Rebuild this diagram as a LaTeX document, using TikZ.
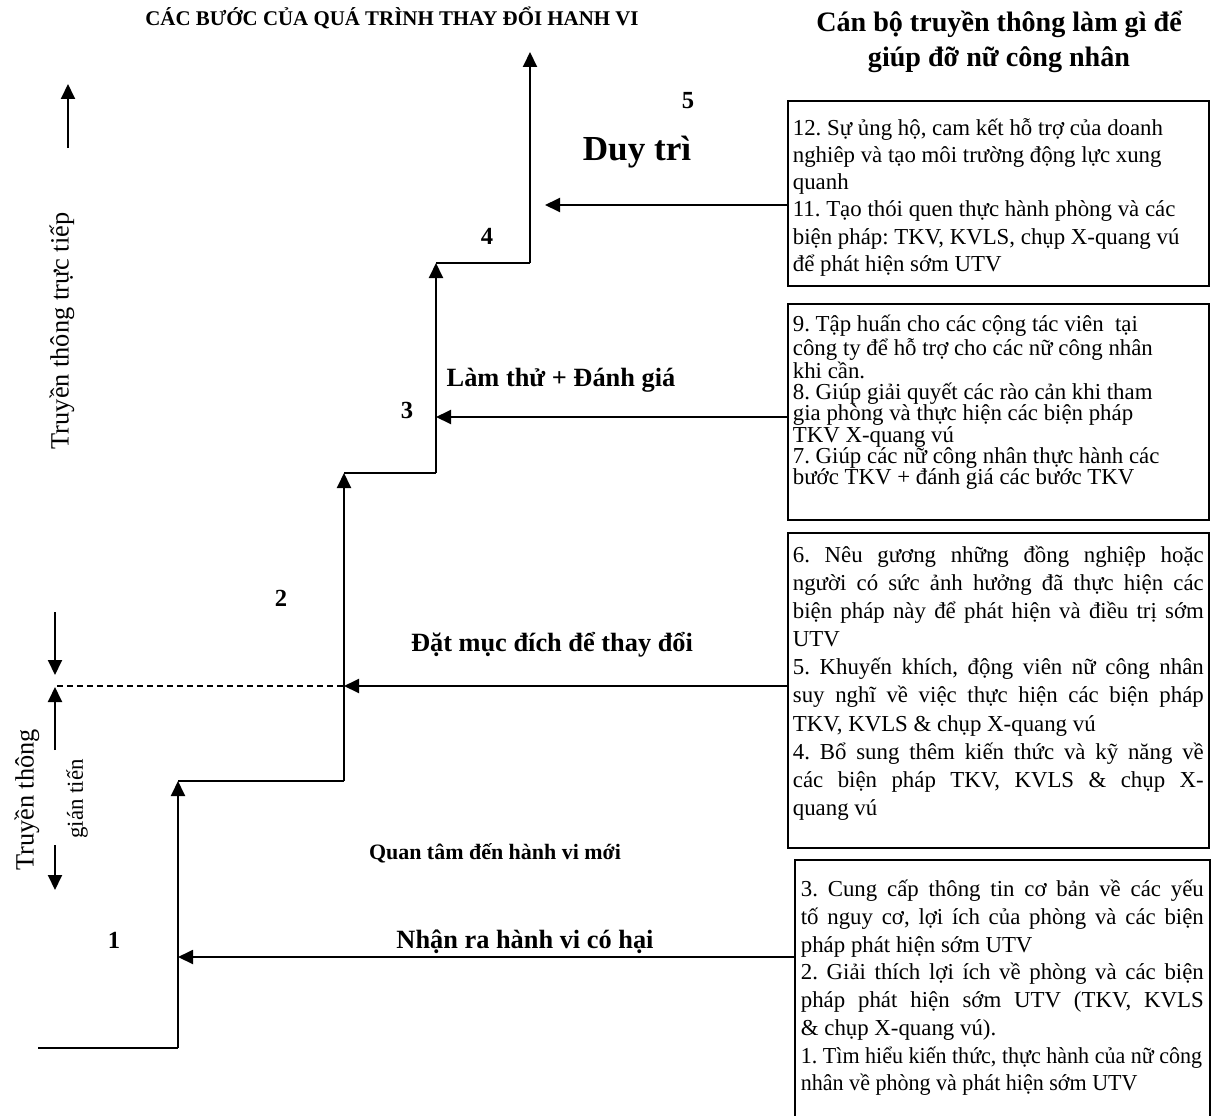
\documentclass[tikz,border=0pt]{standalone}
\usepackage{fontspec}
\setmainfont{Liberation Serif}
\newfontfamily\schmal[FakeStretch=0.965]{Liberation Serif}
\usetikzlibrary{arrows.meta}
\frenchspacing

\tikzset{
	pfeil/.style={line width=1.1pt,-{Triangle[length=0.3cm,width=0.28cm]}},
	stufe/.style={line width=1.1pt},
	kasten/.style={draw,line width=1pt,anchor=north west,inner sep=0.1cm},
	zahl/.style={font=\fontsize{14}{14}\selectfont\bfseries},
	phase/.style={font=\fontsize{15}{15}\selectfont\bfseries},
	seite/.style={rotate=90,font=\fontsize{15}{15}\selectfont},
}

\begin{document}
\begin{tikzpicture}[x=0.02cm,y=-0.02cm]
	\useasboundingbox (0,0) rectangle (1216,1115);
	
	% Ueberschriften
	\node[font=\fontsize{11.9}{13}\selectfont\bfseries] (titel) at (392,18) {CÁC BƯỚC CỦA QUÁ TRÌNH THAY ĐỔI HANH VI};
	\node[font=\fontsize{16}{20}\selectfont\bfseries, align=center] (kopf) at (999,42) {Cán bộ truyền thông làm gì để\\giúp đỡ nữ công nhân};
	
	% Punkte der Treppe
	\coordinate (S0) at (38,1048);
	\coordinate (S1) at (178,1048);
	\coordinate (T1) at (178,781);
	\coordinate (S2) at (344,781);
	\coordinate (T2) at (344,473);
	\coordinate (S3) at (436,473);
	\coordinate (T3) at (436,263);
	\coordinate (S4) at (530,263);
	\coordinate (T4) at (530,52);
	
	% Treppe
	\draw[stufe] (S0) -- (S1);
	\draw[pfeil] (S1) -- (T1);
	\draw[stufe] (T1) -- (S2);
	\draw[pfeil] (S2) -- (T2);
	\draw[stufe] (T2) -- (S3);
	\draw[pfeil] (S3) -- (T3);
	\draw[stufe] (T3) -- (S4);
	\draw[pfeil] (S4) -- (T4);
	
	% Stufen
	\node[zahl] (n1) at (114,940) {1};
	\node[zahl] (n2) at (281,598) {2};
	\node[zahl] (n3) at (407,410) {3};
	\node[zahl] (n4) at (487,236) {4};
	\node[zahl] (n5) at (688,101) {5};
	
	\node[phase] (ph1) at (525,942) {Nhận ra hành vi có hại};
	\node[font=\fontsize{12.5}{12.5}\selectfont\bfseries] (ph1b) at (495,853) {Quan tâm đến hành vi mới};
	\node[phase] (ph2) at (552,645) {Đặt mục đích để thay đổi};
	\node[phase] (ph3) at (561,380) {Làm thử + Đánh giá};
	\node[font=\fontsize{20}{20}\selectfont\bfseries] (ph4) at (637,152) {Duy trì};
	
	% Kaesten
	\node[kasten] (K4) at (787,100) {\parbox[c][3.5cm][t]{8.22cm}{\fontsize{13}{15.5}\selectfont\raggedright
			\vspace*{7pt}
			12. Sự ủng hộ, cam kết hỗ trợ của doanh\\
			nghiêp và tạo môi trường động lực xung\\
			quanh\\
			11. Tạo thói quen thực hành phòng và các\\
			biện pháp: TKV, KVLS, chụp X-quang vú\\
			để phát hiện sớm UTV}};
	\node[kasten] (K3) at (787,303) {\parbox[c][4.12cm][t]{8.22cm}{\fontsize{13}{12.1}\selectfont\raggedright
			\vspace*{3.5pt}
			9. Tập huấn cho các cộng tác viên\ \ tại\\
			công ty để hỗ trợ cho các nữ công nhân\\
			khi cần.\\
			8. Giúp giải quyết các rào cản khi tham\\
			gia phòng và thực hiện các biện pháp\\
			TKV X-quang vú\\
			7. Giúp các nữ công nhân thực hành các\\
			bước TKV + đánh giá các bước TKV}};
	\node[kasten] (K2) at (787,532) {\parbox[c][6.1cm][t]{8.22cm}{\fontsize{13}{16}\selectfont
			\vspace*{4.5pt}
			6. Nêu gương những đồng nghiệp hoặc\linebreak
			người có sức ảnh hưởng đã thực hiện các\linebreak
			biện pháp này để phát hiện và điều trị sớm\linebreak
			UTV\\
			5. Khuyến khích, động viên nữ công nhân\linebreak
			suy nghĩ về việc thực hiện các biện pháp\linebreak
			TKV, KVLS \& chụp X-quang vú\\
			4. Bổ sung thêm kiến thức và kỹ năng về\linebreak
			các biện pháp TKV, KVLS \& chụp X-\linebreak
			quang vú}};
	\node[kasten, draw=none] (K1) at (795,860) {\parbox[c][4.9cm][t]{8.06cm}{\fontsize{13}{15.8}\selectfont
			\vspace*{8pt}
			3. Cung cấp thông tin cơ bản về các yếu\linebreak
			tố nguy cơ, lợi ích của phòng và các biện\linebreak
			pháp phát hiện sớm UTV\\
			2. Giải thích lợi ích về phòng và các biện\linebreak
			pháp phát hiện sớm UTV (TKV, KVLS\linebreak
			\& chụp X-quang vú).\\
			{\schmal 1. Tìm hiểu kiến thức, thực hành của nữ công\\
				nhân về phòng và phát hiện sớm UTV}}};
	\draw[line width=1pt] (K1.south west) |- (K1.north east) -- (K1.south east);
	
	% Pfeile von den Kaesten
	\coordinate (P4) at (545,205);
	\coordinate (P3) at (436,417);
	\coordinate (P2) at (344,686);
	\coordinate (P1) at (178,957);
	\draw[pfeil] (K4.west |- P4) -- (P4);
	\draw[pfeil] (K3.west |- P3) -- (P3);
	\draw[pfeil] (K2.west |- P2) -- (P2);
	\draw[pfeil] (K1.west |- P1) -- (P1);
	
	% Grenze direkt / indirekt
	\coordinate (G) at (57,686);
	\draw[line width=0.8pt, dash pattern=on 3.4pt off 2.3pt] (G) -- (P2);
	
	% Seitenbeschriftung
	\node[seite] (direkt) at (62,331) {Truyền thông trực tiếp};
	\node[seite] (indirekt) at (27,800) {Truyền thông};
	\node[seite, font=\fontsize{13}{13}\selectfont] (gian) at (77,799) {gián tiến};
	
	\coordinate (D0) at (68,148);
	\coordinate (D1) at (68,84);
	\draw[pfeil] (D0) -- (D1);
	\coordinate (U0) at (55,612);
	\coordinate (U1) at (55,675);
	\draw[pfeil] (U0) -- (U1);
	\coordinate (U2) at (55,750);
	\coordinate (U3) at (55,687);
	\draw[pfeil] (U2) -- (U3);
	\coordinate (U4) at (55,845);
	\coordinate (U5) at (55,890);
	\draw[pfeil] (U4) -- (U5);
	
\end{tikzpicture}
\end{document}
